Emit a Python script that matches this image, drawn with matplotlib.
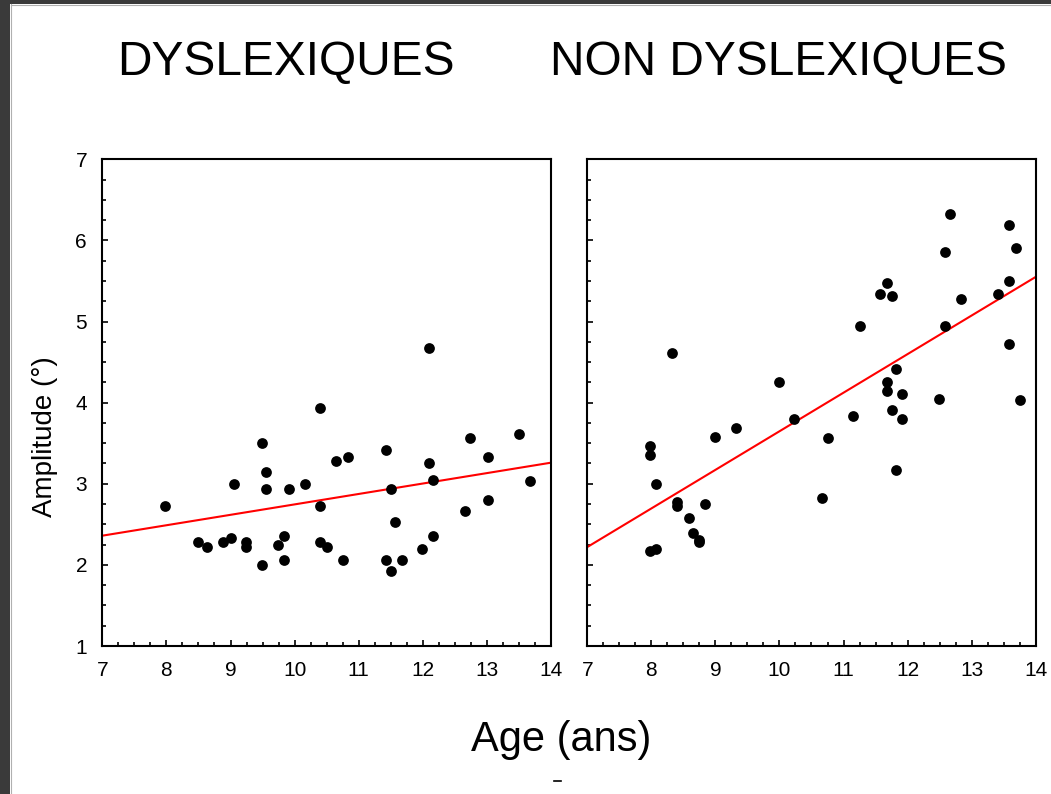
import matplotlib
matplotlib.use("Agg")
import matplotlib.pyplot as plt
from matplotlib.patches import Rectangle
from matplotlib.lines import Line2D
from matplotlib.ticker import MultipleLocator

plt.rcParams['font.family'] = ['Liberation Sans', 'DejaVu Sans']

# ---- data ----
dys_age = [7.98, 8.50, 8.64, 8.89, 9.00, 9.06, 9.24, 9.24, 9.49, 9.49, 9.56, 9.56,
           9.74, 9.84, 9.84, 9.91, 10.16, 10.40, 10.40, 10.40, 10.51, 10.65, 10.76,
           10.83, 11.43, 11.43, 11.50, 11.50, 11.57, 11.68, 11.99, 12.10, 12.10,
           12.16, 12.16, 12.66, 12.73, 13.01, 13.01, 13.50, 13.68]
dys_amp = [2.72, 2.28, 2.22, 2.28, 2.33, 3.00, 2.28, 2.22, 3.50, 2.00, 3.14, 2.94,
           2.25, 2.36, 2.06, 2.94, 3.00, 3.94, 2.72, 2.28, 2.22, 3.28, 2.06,
           3.33, 3.42, 2.06, 2.94, 1.92, 2.53, 2.06, 2.20, 4.67, 3.25,
           3.05, 2.36, 2.66, 3.56, 3.33, 2.80, 3.61, 3.03]
dys_fit_x = [7, 14]
dys_fit_y = [2.36, 3.26]

non_age = [7.98, 7.98, 7.98, 8.08, 8.08, 8.33, 8.40, 8.40, 8.58, 8.65, 8.75, 8.75,
           8.83, 9.00, 9.32, 9.99, 10.23, 10.66, 10.76, 11.15, 11.26, 11.57, 11.68,
           11.75, 11.68, 11.68, 11.75, 11.82, 11.82, 11.92, 11.92, 12.49, 12.59,
           12.59, 12.66, 12.84, 13.41, 13.58, 13.58, 13.58, 13.69, 13.76]
non_amp = [3.47, 3.36, 2.17, 2.20, 3.00, 4.61, 2.78, 2.72, 2.58, 2.39, 2.31, 2.28,
           2.75, 3.58, 3.69, 4.25, 3.80, 2.83, 3.56, 3.83, 4.94, 5.34, 5.47,
           5.31, 4.25, 4.14, 3.91, 4.42, 3.17, 4.11, 3.80, 4.05, 5.86,
           4.94, 6.33, 5.28, 5.34, 6.19, 5.50, 4.72, 5.91, 4.03]
non_fit_x = [7, 14]
non_fit_y = [2.22, 5.55]

titles = ["DYSLEXIQUES", "NON DYSLEXIQUES"]
x_ticks = [7, 8, 9, 10, 11, 12, 13, 14]
y_ticks = [1, 2, 3, 4, 5, 6, 7]

W, H = 1051, 794
fig = plt.figure(figsize=(W / 100, H / 100), dpi=100)

# slide frame
fig.add_artist(Rectangle((0, 0), 9.5 / W, 1, transform=fig.transFigure,
                         facecolor='#3a3a3a', edgecolor='none'))
fig.add_artist(Rectangle((0, 1 - 3.5 / H), 1, 3.5 / H, transform=fig.transFigure,
                         facecolor='#3a3a3a', edgecolor='none'))
fig.add_artist(Line2D([10.5 / W, 10.5 / W], [0, 1 - 4 / H], transform=fig.transFigure,
                      color='#b0b0b0', lw=0.8))
fig.add_artist(Line2D([10.5 / W, 1], [1 - 4.5 / H, 1 - 4.5 / H], transform=fig.transFigure,
                      color='#b0b0b0', lw=0.8))

ax_bottom = (H - 646) / H
ax_height = (646 - 159.3) / H
ax1 = fig.add_axes([102.3 / W, ax_bottom, 448.7 / W, ax_height])
ax2 = fig.add_axes([587.3 / W, ax_bottom, 448.4 / W, ax_height])

panels = [(ax1, dys_age, dys_amp, dys_fit_x, dys_fit_y),
          (ax2, non_age, non_amp, non_fit_x, non_fit_y)]
for i, (ax, xs, ys, fx, fy) in enumerate(panels):
    ax.scatter(xs, ys, s=60, color='black', zorder=3, linewidths=0)
    ax.plot(fx, fy, color='#ff0000', lw=1.5, zorder=2)
    ax.set_xlim(7, 14)
    ax.set_ylim(1, 7)
    ax.set_xticks(x_ticks)
    ax.set_yticks(y_ticks)
    ax.xaxis.set_minor_locator(MultipleLocator(0.25))
    ax.yaxis.set_minor_locator(MultipleLocator(0.25))
    ax.tick_params(which='both', direction='in', top=False, right=False, width=1.2)
    ax.tick_params(which='major', length=4, labelsize=15, pad=11)
    ax.tick_params(which='minor', length=3)
    for sp in ax.spines.values():
        sp.set_linewidth(1.5)
    if i == 1:
        ax.tick_params(axis='y', labelleft=False)

ax1.set_ylabel("Amplitude (°)", fontsize=20)
ax1.yaxis.set_label_coords(-0.099, (646 - 437) / (646 - 159.3))

fig.text(286 / W, 1 - 62 / H, titles[0], fontsize=34.5, ha='center', va='center')
fig.text(779 / W, 1 - 62 / H, titles[1], fontsize=34.5, ha='center', va='center')
fig.text(561 / W, 1 - 740 / H, "Age (ans)", fontsize=30, ha='center', va='center')

# small cut-off mark at the bottom of the slide
fig.add_artist(Line2D([554 / W, 561 / W], [1 - 781 / H, 1 - 781 / H],
                      transform=fig.transFigure, color='black', lw=1.2))

fig.savefig("out.png", dpi=100, facecolor='white')
